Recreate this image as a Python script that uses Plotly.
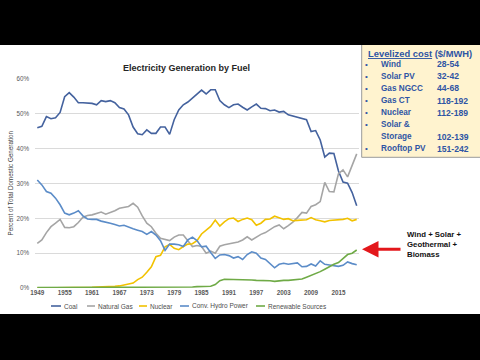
import plotly.graph_objects as go

years = list(range(1949, 2020))

coal = [46.0, 46.4, 49.2, 48.6, 48.9, 50.4, 54.9, 56.1, 54.8, 53.2,
        53.2, 53.2, 53.0, 52.6, 53.8, 53.5, 53.8, 53.2, 51.8, 51.4,
        49.7, 46.2, 44.3, 44.0, 45.4, 44.4, 44.4, 46.2, 46.2, 44.1,
        48.3, 51.1, 52.6, 53.4, 54.5, 55.8, 56.8, 55.7, 56.9, 56.9,
        53.8, 52.6, 51.8, 52.6, 52.8, 51.9, 51.1, 52.0, 52.8, 51.6,
        51.5, 50.9, 51.1, 50.5, 50.7, 49.7, 49.4, 49.0, 48.6, 48.3,
        44.9, 45.2, 42.5, 37.6, 38.7, 38.6, 33.6, 30.4, 30.1, 27.4,
        23.6]

natural_gas = [12.8, 13.8, 15.9, 17.6, 18.6, 19.7, 17.4, 17.3, 17.6, 18.8,
               20.3, 20.8, 21.0, 21.5, 21.8, 21.2, 21.6, 22.2, 22.9, 23.1,
               23.4, 24.3, 23.2, 20.7, 18.6, 17.6, 15.7, 14.3, 14.0, 13.6,
               14.6, 15.2, 15.2, 13.5, 11.9, 12.2, 11.9, 10.0, 10.6, 10.0,
               12.0, 12.4, 12.6, 13.0, 13.2, 13.8, 14.7, 13.8, 14.7, 15.4,
               15.9, 16.7, 17.6, 18.1, 17.0, 17.9, 18.9, 20.2, 21.7, 21.5,
               23.4, 23.9, 24.8, 30.3, 27.7, 27.6, 32.8, 33.9, 31.9, 35.2,
               38.5]

nuclear = [0.0, 0.0, 0.0, 0.0, 0.0, 0.0, 0.0, 0.0, 0.0, 0.0,
           0.0, 0.1, 0.2, 0.3, 0.3, 0.3, 0.3, 0.5, 0.6, 0.9,
           1.3, 1.4, 2.4, 3.1, 4.5, 6.1, 9.0, 9.4, 11.8, 12.5,
           11.4, 11.0, 11.9, 12.6, 12.7, 13.6, 15.5, 16.6, 17.7, 19.5,
           17.8, 19.0, 19.9, 20.1, 19.1, 19.7, 20.1, 19.6, 18.0, 18.6,
           19.7, 19.8, 20.6, 20.2, 19.7, 19.9, 19.3, 19.4, 19.4, 19.6,
           20.2, 19.6, 19.3, 19.0, 19.4, 19.5, 19.5, 19.7, 20.0, 19.3,
           19.7]

hydro = [31.0, 29.6, 27.7, 27.2, 25.8, 23.9, 21.5, 21.0, 21.5, 22.2,
         20.7, 19.8, 19.7, 19.7, 19.2, 19.0, 18.6, 18.2, 17.8, 18.0,
         17.4, 17.0, 16.6, 16.2, 15.4, 16.2, 15.2, 13.6, 10.8, 12.6,
         12.6, 12.4, 11.9, 13.8, 14.6, 13.6, 11.8, 12.0, 10.2, 8.5,
         9.5, 9.6, 9.3, 8.6, 9.0, 8.2, 9.6, 10.4, 10.0, 8.6,
         8.2, 7.1, 5.8, 6.8, 7.1, 6.8, 7.0, 7.2, 6.1, 6.2,
         6.9, 6.3, 7.8, 6.8, 6.6, 6.3, 6.2, 6.5, 7.5, 7.0,
         6.7]

renewable = [0.1, 0.1, 0.1, 0.1, 0.1, 0.1, 0.1, 0.1, 0.1, 0.1,
             0.1, 0.1, 0.1, 0.1, 0.1, 0.1, 0.1, 0.1, 0.1, 0.1,
             0.1, 0.2, 0.2, 0.2, 0.2, 0.2, 0.2, 0.2, 0.2, 0.2,
             0.2, 0.2, 0.2, 0.3, 0.3, 0.4, 0.4, 0.4, 0.5, 1.0,
             2.1, 2.5, 2.5, 2.4, 2.4, 2.3, 2.3, 2.3, 2.2, 2.2,
             2.2, 2.1, 1.9, 2.1, 2.2, 2.2, 2.3, 2.5, 2.6, 3.1,
             3.6, 4.1, 4.7, 5.4, 6.2, 6.8, 7.3, 8.4, 9.6, 10.0,
             10.9]

series_names = ["Coal", "Natural Gas", "Nuclear", "Conv. Hydro Power", "Renewable Sources"]
series_colors = ["#44629E", "#A5A5A5", "#F2C200", "#5B8CC8", "#6FAA46"]
series_values = [coal, natural_gas, nuclear, hydro, renewable]

x_tick_vals = [1949, 1955, 1961, 1967, 1973, 1979, 1985, 1991, 1997, 2003, 2009, 2015]
x_tick_labels = ["1949", "1955", "1961", "1967", "1973", "1979", "1985",
                 "1991", "1997", "2003", "2009", "2015"]

cost_header = "<u>Levelized cost</u> ($/MWH)"
cost_names = ["Wind", "Solar PV", "Gas NGCC", "Gas CT", "Nuclear", "Solar &", "Storage", "Rooftop PV"]
cost_ranges = ["28-54", "32-42", "44-68", "118-192", "112-189", "", "102-139", "151-242"]
cost_bullets = [True, True, True, True, True, True, False, True]

arrow_label = "Wind + Solar +<br>Geothermal +<br>Biomass"

# ---------------- layout helpers ----------------
W, H = 480, 360
L, R, T, B = 35, 121, 79, 72
PW, PH = W - L - R, H - T - B


def px(x):
    return (x - L) / PW


def py(y):
    return (H - B - y) / PH


FONT = "Liberation Sans, Arial, sans-serif"
BLUE_TXT = "#2F55A4"

fig = go.Figure()
for name, color, vals in zip(series_names, series_colors, series_values):
    fig.add_trace(go.Scatter(x=years, y=vals, mode="lines", name=name,
                             line=dict(color=color, width=1.6), showlegend=False))

shapes = []
annotations = []

# Custom legend
leg_line_x = [(51, 61), (87, 95), (139, 147), (180, 189), (256, 265)]
for (x0, x1), name, color in zip(leg_line_x, series_names, series_colors):
    shapes.append(dict(type="line", xref="paper", yref="paper",
                       x0=px(x0), x1=px(x1), y0=py(306), y1=py(306),
                       line=dict(color=color, width=1.6)))
    annotations.append(dict(text=name, xref="paper", yref="paper",
                            x=px(x1 + 1), y=py(306), xanchor="left", yanchor="middle",
                            showarrow=False, font=dict(family=FONT, size=6.5, color="#4D4D4D")))

# Title
annotations.append(dict(text="<b>Electricity Generation by Fuel</b>", xref="paper", yref="paper",
                        x=px(186), y=py(68), xanchor="center", yanchor="middle", showarrow=False,
                        font=dict(family=FONT, size=9, color="#262626")))
# Y axis title
annotations.append(dict(text="Percent of Total Domestic Generation", xref="paper", yref="paper",
                        x=px(10), y=py(183.5), xanchor="center", yanchor="middle", showarrow=False,
                        textangle=-90, font=dict(family=FONT, size=6.3, color="#404040")))

# Cost box
shapes.append(dict(type="rect", xref="paper", yref="paper", layer="below",
                   x0=px(361.7), x1=px(482), y0=py(157.3), y1=py(40),
                   fillcolor="#FFF3CF", line=dict(color="#9A9A9A", width=1)))
annotations.append(dict(text="<b>" + cost_header + "</b>", xref="paper", yref="paper",
                        x=px(365.5), y=py(54), xanchor="left", yanchor="middle", showarrow=False,
                        font=dict(family=FONT, size=9.4, color=BLUE_TXT)))
row_y = [64.3, 76.2, 88.4, 100.6, 112.7, 124.5, 136.6, 148.7]
for yy, nm, rg, bl in zip(row_y, cost_names, cost_ranges, cost_bullets):
    if bl:
        annotations.append(dict(text="•", xref="paper", yref="paper",
                                x=px(366.7), y=py(yy), xanchor="center", yanchor="middle",
                                showarrow=False, font=dict(family=FONT, size=8, color=BLUE_TXT)))
    annotations.append(dict(text="<b>" + nm + "</b>", xref="paper", yref="paper",
                            x=px(379), y=py(yy), xanchor="left", yanchor="middle",
                            showarrow=False, font=dict(family=FONT, size=8.2, color=BLUE_TXT)))
    if rg:
        annotations.append(dict(text="<b>" + rg + "</b>", xref="paper", yref="paper",
                                x=px(435), y=py(yy), xanchor="left", yanchor="middle",
                                showarrow=False, font=dict(family=FONT, size=8.6, color=BLUE_TXT)))

# Arrow and its label
annotations.append(dict(text="", xref="paper", yref="paper", x=px(362), y=py(249.3),
                        ax=40, ay=0, showarrow=True, arrowhead=2, arrowsize=1.1,
                        arrowwidth=3, arrowcolor="#E3171B"))
annotations.append(dict(text="<b>" + arrow_label + "</b>", xref="paper", yref="paper",
                        x=px(405), y=py(244), xanchor="left", yanchor="middle", align="left",
                        showarrow=False, font=dict(family=FONT, size=7.8, color="#111111")))

# Letterbox bars
shapes.append(dict(type="rect", xref="paper", yref="paper", layer="above",
                   x0=px(-5), x1=px(485), y0=py(45), y1=py(-5),
                   fillcolor="black", line=dict(width=0)))
shapes.append(dict(type="rect", xref="paper", yref="paper", layer="above",
                   x0=px(-5), x1=px(485), y0=py(365), y1=py(314),
                   fillcolor="black", line=dict(width=0)))

fig.update_layout(
    width=W, height=H, autosize=False,
    margin=dict(l=L, r=R, t=T, b=B, pad=0),
    paper_bgcolor="white", plot_bgcolor="white",
    showlegend=False,
    shapes=shapes, annotations=annotations,
    xaxis=dict(range=[1948.5, 2019.5], tickmode="array", tickvals=x_tick_vals,
               ticktext=["<b>" + t + "</b>" for t in x_tick_labels],
               showgrid=False, zeroline=False, showline=False, ticks="",
               tickfont=dict(family=FONT, size=6.3, color="#595959")),
    yaxis=dict(range=[0, 60], dtick=10, ticksuffix="%", tickformat="d",
               showgrid=True, gridcolor="#DADADA", gridwidth=1,
               zeroline=False, showline=False, ticks="", ticklabelstandoff=5,
               tickfont=dict(family=FONT, size=6.3, color="#595959")),
)

fig.write_html("out.html", config={"displayModeBar": False},
               post_script="document.body.style.margin='0';document.body.style.padding='0';document.body.style.overflow='hidden';")
